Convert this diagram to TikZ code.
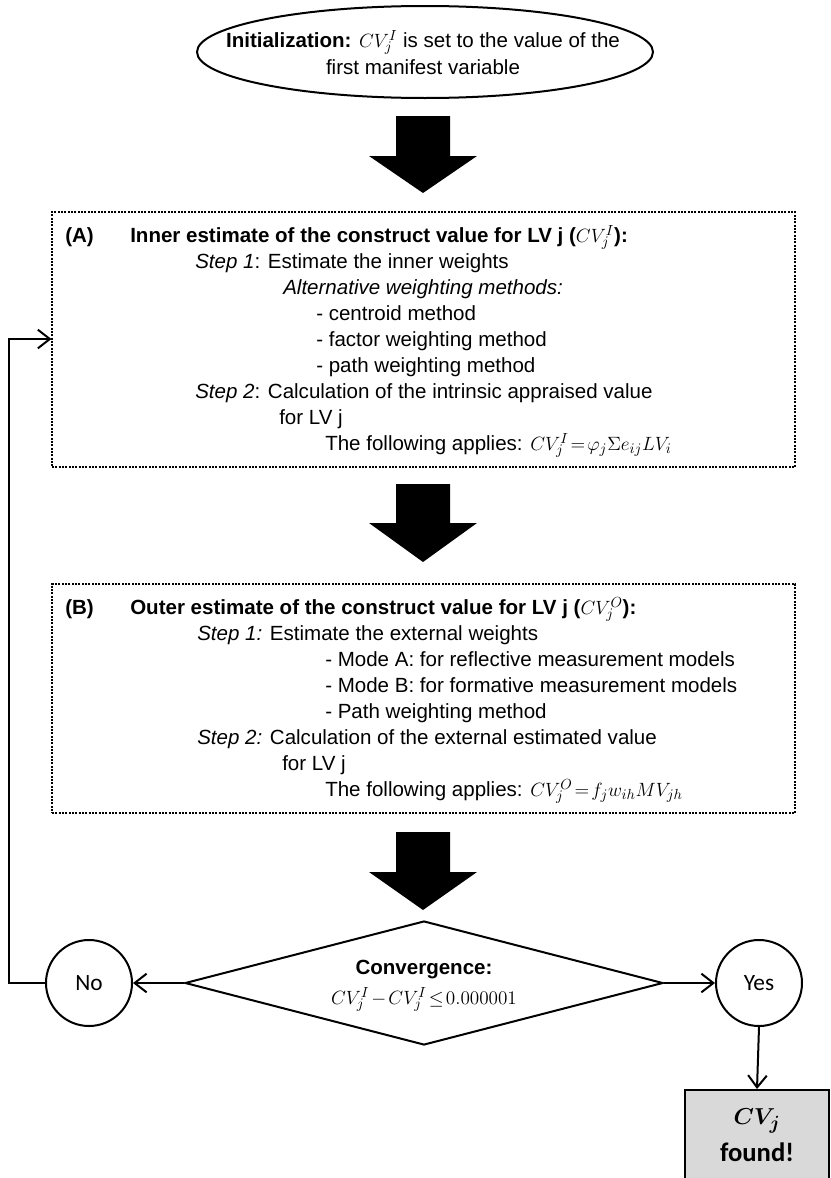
\documentclass[tikz,border=0pt]{standalone}
\usepackage{fontspec}
\usepackage{bm}
\setmainfont{Liberation Sans}
\newfontfamily\labelfont{Carlito}
\usetikzlibrary{arrows.meta,shapes.geometric}
\definecolor{foundgray}{HTML}{D9D9D9}
% compact spacing for the inline formulas
\newcommand{\tightmath}[1]{{\thickmuskip=2mu\medmuskip=2mu$#1$}}
\begin{document}
\begin{tikzpicture}[x=0.75pt,y=-0.75pt,
  body/.style={anchor=base west,inner sep=0pt,font=\fontsize{15.4}{18}\selectfont},
  ctext/.style={anchor=base,inner sep=0pt,font=\fontsize{15.4}{18}\selectfont},
  stagebox/.style={draw,line width=0.8pt,dash pattern=on 1.5pt off 1pt,rectangle,inner sep=0pt},
  conn/.style={draw,line width=1.5pt,-{Straight Barb[length=9pt,width=14pt,line width=1.5pt]}},
  blockarrow/.style={fill=black},
  answer/.style={draw,line width=1.5pt,circle,inner sep=0pt,minimum size=64.5pt,font=\labelfont\fontsize{17.5}{20}\selectfont}]
\useasboundingbox (0,0) rectangle (831,1178);

% start node
\node[draw,line width=1.5pt,ellipse,minimum width=342pt,minimum height=69pt,inner sep=0pt] (init) at (425,52) {};
\node[ctext] (init1) at (423,47) {\textbf{Initialization:} $CV_j^I$ is set to the value of the};
\node[ctext] (init2) at (423,74) {first manifest variable};

% block arrow 1
\fill[blockarrow] (396,116) -- (450,116) -- (450,156) -- (477,156) -- (423,193) -- (369,156) -- (396,156) -- cycle;

% stage A: inner estimate
\node[stagebox,minimum width=557.25pt,minimum height=191.25pt] (boxA) at (423.5,339.5) {};
\node[body] (a0) at (65,242) {\textbf{(A)}};
\node[body] (a1) at (130,242) {\textbf{Inner estimate of the construct value for LV j (}$CV_j^I$\textbf{):}};
\node[body] (a2) at (195,268) {\textit{Step 1}: Estimate the inner weights};
\node[body] (a3) at (283,294) {\textit{Alternative weighting methods:}};
\node[body] (a4) at (316,320) {- centroid method};
\node[body] (a5) at (316,346) {- factor weighting method};
\node[body] (a6) at (316,372) {- path weighting method};
\node[body] (a7) at (195,398) {\textit{Step 2}: Calculation of the intrinsic appraised value};
\node[body] (a8) at (279,424) {for LV j};
\node[body] (a9) at (325,450) {The following applies: \tightmath{CV_j^I=\varphi_j\Sigma e_{ij}LV_i}};

% block arrow 2
\fill[blockarrow] (396,484) -- (450,484) -- (450,523) -- (477,523) -- (423,562) -- (369,523) -- (396,523) -- cycle;

% stage B: outer estimate
\node[stagebox,minimum width=557.25pt,minimum height=171.75pt] (boxB) at (423.5,698.5) {};
\node[body] (b0) at (65,614) {\textbf{(B)}};
\node[body] (b1) at (130,614) {\textbf{Outer estimate of the construct value for LV j (}$CV_j^O$\textbf{):}};
\node[body] (b2) at (197,640) {\textit{Step 1:} Estimate the external weights};
\node[body] (b3) at (325,666) {- Mode A: for reflective measurement models};
\node[body] (b4) at (325,692) {- Mode B: for formative measurement models};
\node[body] (b5) at (325,718) {- Path weighting method};
\node[body] (b6) at (197,744) {\textit{Step 2:} Calculation of the external estimated value};
\node[body] (b7) at (282,770) {for LV j};
\node[body] (b8) at (325,796) {The following applies: \tightmath{CV_j^O=f_jw_{ih}MV_{jh}}};

% block arrow 3
\fill[blockarrow] (396,832) -- (450,832) -- (450,872) -- (477,872) -- (423,910) -- (369,872) -- (396,872) -- cycle;

% convergence test
\node[draw,line width=1.5pt,diamond,shape aspect=3.85,minimum width=358.5pt,minimum height=93pt,inner sep=0pt] (cond) at (424,983) {};
\node[ctext] (cond1) at (424,974) {\textbf{Convergence:}};
\node[ctext] (cond2) at (424,1004) {\tightmath{CV_j^I-CV_j^I\leq 0.000001}};

\node[answer] (no) at (89,983) {No};
\node[answer] (yes) at (759,983) {Yes};

% result box, running past the lower edge of the page
\node[draw,line width=1.5pt,fill=foundgray,rectangle,minimum width=108pt,minimum height=75pt,inner sep=0pt] (found) at (757,1140) {};
\node[ctext,font=\fontsize{19}{20}\selectfont] (found1) at (757,1124) {$\bm{CV_j}$};
\node[ctext,font=\labelfont\bfseries\fontsize{20}{22}\selectfont] (found2) at (757,1161) {found!};

% connectors
\coordinate (loop) at (9,339);
\draw[conn] (cond.west) -- (no.east);
\draw[conn] (cond.east) -- (yes.west);
\draw[conn] (yes.south) -- (found.north);
\draw[conn] (no.west) -| (loop) -- (loop -| boxA.west);
\end{tikzpicture}
\end{document}
